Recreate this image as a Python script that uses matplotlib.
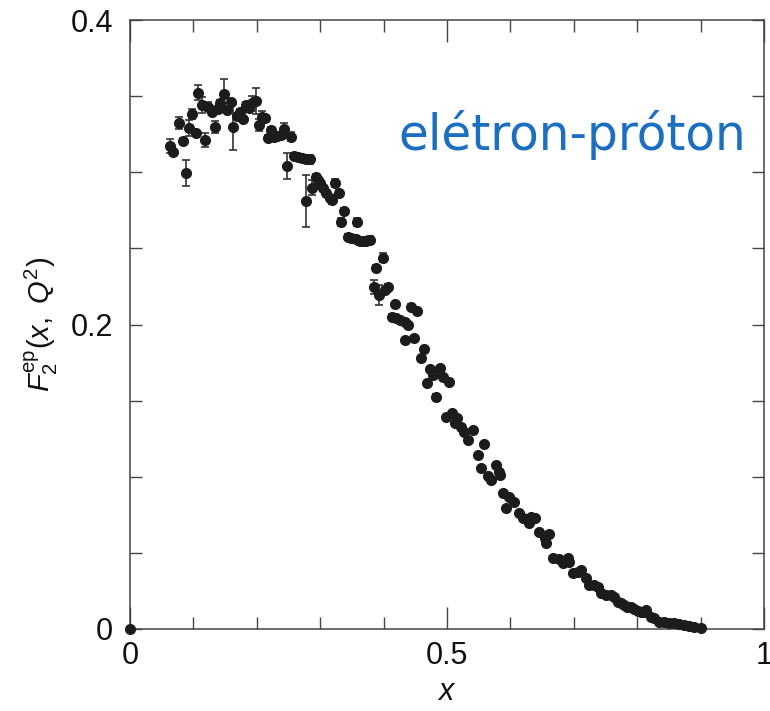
import numpy as np
import matplotlib
matplotlib.use("Agg")
import matplotlib.pyplot as plt
from matplotlib.ticker import MultipleLocator

x_vals = [0.0,
    0.063, 0.068, 0.0776, 0.083, 0.0882, 0.0929, 0.0981, 0.1035, 0.1076, 0.1129,
    0.1181, 0.1233, 0.1287, 0.1339, 0.1381, 0.1417, 0.148, 0.1523, 0.159, 0.1627,
    0.168, 0.1732, 0.1784, 0.1822, 0.1879, 0.1932, 0.1984, 0.2031, 0.2083, 0.2137,
    0.2178, 0.2231, 0.2272, 0.2326, 0.2378, 0.243, 0.2483, 0.2535, 0.2583, 0.265,
    0.272, 0.2783, 0.2846, 0.2783, 0.2877, 0.2929, 0.2965, 0.3003, 0.3044, 0.3098,
    0.315, 0.3186, 0.3239, 0.3291, 0.3375, 0.3323, 0.3586, 0.3438, 0.3491, 0.3559,
    0.3622, 0.3674, 0.3728, 0.378, 0.3989, 0.3885, 0.3843, 0.3926, 0.4016, 0.4068,
    0.4184, 0.4436, 0.4531, 0.4131, 0.42, 0.4263, 0.4331, 0.4383, 0.4331, 0.4477,
    0.4635, 0.4583, 0.4735, 0.4882, 0.4776, 0.4934, 0.5028, 0.4682, 0.483, 0.4987,
    0.5082, 0.5154, 0.5134, 0.5224, 0.5276, 0.5406, 0.5328, 0.5591, 0.5485, 0.5539,
    0.5643, 0.5696, 0.5775, 0.5816, 0.5838, 0.5879, 0.5973, 0.6063, 0.5932, 0.6142,
    0.6194, 0.6326, 0.6299, 0.6394, 0.6457, 0.6551, 0.6614, 0.6562, 0.6666, 0.6761,
    0.6824, 0.6902, 0.6929, 0.6981, 0.706, 0.7113, 0.7192, 0.7244, 0.7323, 0.7375,
    0.7428, 0.7507, 0.7586, 0.7638, 0.769, 0.7743, 0.7795, 0.7847, 0.79, 0.7953,
    0.8005, 0.8058, 0.811, 0.8137, 0.8216, 0.8268, 0.8346, 0.8425, 0.8504, 0.8583,
    0.8661, 0.874, 0.8819, 0.8898, 0.9003]

f2_vals = [0.0,
    0.3172, 0.3135, 0.3325, 0.3207, 0.2993, 0.3289, 0.3381, 0.3256, 0.3522, 0.3442,
    0.3212, 0.3430, 0.3398, 0.3295, 0.3413, 0.3453, 0.3514, 0.3409, 0.3463, 0.3295,
    0.3369, 0.3398, 0.3348, 0.3442, 0.3420, 0.3453, 0.3470, 0.3310, 0.3365, 0.3358,
    0.3223, 0.3277, 0.3233, 0.3238, 0.3245, 0.3282, 0.3041, 0.3233, 0.3107, 0.3098,
    0.3092, 0.3085, 0.3085, 0.2811, 0.2899, 0.2971, 0.2949, 0.2927, 0.2894, 0.2862,
    0.2829, 0.2818, 0.2931, 0.2862, 0.2747, 0.2675, 0.2675, 0.2577, 0.2566, 0.2560,
    0.2550, 0.2550, 0.2550, 0.2555, 0.2439, 0.2369, 0.2248, 0.2194, 0.2227, 0.2248,
    0.2133, 0.2117, 0.2091, 0.2051, 0.2041, 0.2030, 0.2018, 0.1997, 0.1898, 0.1909,
    0.1837, 0.1778, 0.1706, 0.1712, 0.1668, 0.1653, 0.1624, 0.1614, 0.1522, 0.1394,
    0.1421, 0.1384, 0.1351, 0.1325, 0.1294, 0.1307, 0.1241, 0.1213, 0.1143, 0.1055,
    0.1005, 0.0979, 0.1077, 0.1033, 0.1011, 0.0891, 0.0869, 0.0836, 0.0793, 0.0760,
    0.0727, 0.0738, 0.0698, 0.0727, 0.0639, 0.0596, 0.0624, 0.0563, 0.0464, 0.0458,
    0.0432, 0.0464, 0.0442, 0.0366, 0.0376, 0.0388, 0.0333, 0.0289, 0.0289, 0.0274,
    0.0234, 0.0223, 0.0223, 0.0212, 0.0179, 0.0169, 0.0158, 0.0146, 0.0143, 0.0129,
    0.0120, 0.0114, 0.0114, 0.0125, 0.0081, 0.0070, 0.0048, 0.0048, 0.0041, 0.0037,
    0.0033, 0.0026, 0.0020, 0.0015, 0.0005]

f2_err = [0.0,
    0.0046, 0.0020, 0.0041, 0.0020, 0.0085, 0.0053, 0.0033, 0.0015, 0.0049, 0.0050,
    0.0043, 0.0030, 0.0020, 0.0040, 0.0020, 0.0020, 0.0100, 0.0020, 0.0020, 0.0150,
    0.0020, 0.0020, 0.0020, 0.0020, 0.0025, 0.0050, 0.0085, 0.0040, 0.0040, 0.0020,
    0.0020, 0.0020, 0.0020, 0.0020, 0.0020, 0.0040, 0.0085, 0.0030, 0.0020, 0.0020,
    0.0020, 0.0025, 0.0030, 0.0170, 0.0050, 0.0020, 0.0020, 0.0020, 0.0020, 0.0020,
    0.0020, 0.0025, 0.0025, 0.0020, 0.0020, 0.0025, 0.0025, 0.0020, 0.0020, 0.0020,
    0.0025, 0.0025, 0.0025, 0.0025, 0.0030, 0.0020, 0.0046, 0.0066, 0.0020, 0.0020,
    0.0015, 0.0015, 0.0015, 0.0015, 0.0015, 0.0015, 0.0015, 0.0015, 0.0015, 0.0015,
    0.0015, 0.0015, 0.0015, 0.0015, 0.0015, 0.0015, 0.0015, 0.0015, 0.0020, 0.0010,
    0.0010, 0.0010, 0.0010, 0.0010, 0.0010, 0.0010, 0.0010, 0.0010, 0.0010, 0.0010,
    0.0010, 0.0010, 0.0010, 0.0010, 0.0010, 0.0010, 0.0010, 0.0010, 0.0010, 0.0010,
    0.0010, 0.0010, 0.0010, 0.0010, 0.0010, 0.0010, 0.0010, 0.0010, 0.0010, 0.0010,
    0.0010, 0.0010, 0.0010, 0.0010, 0.0010, 0.0010, 0.0010, 0.0010, 0.0010, 0.0010,
    0.0010, 0.0010, 0.0010, 0.0010, 0.0010, 0.0010, 0.0010, 0.0010, 0.0010, 0.0010,
    0.0010, 0.0010, 0.0010, 0.0010, 0.0010, 0.0010, 0.0010, 0.0010, 0.0010, 0.0010,
    0.0010, 0.0010, 0.0010, 0.0010, 0.0010]

x_ticks = [0, 0.5, 1]
x_ticklabels = ["0", "0.5", "1"]
y_ticks = [0, 0.2, 0.4]
y_ticklabels = ["0", "0.2", "0.4"]
annotation = "elétron-próton"

plt.rcParams['font.family'] = ['Liberation Sans', 'DejaVu Sans']
plt.rcParams['mathtext.fontset'] = 'custom'
plt.rcParams['mathtext.rm'] = 'Liberation Sans'
plt.rcParams['mathtext.it'] = 'Liberation Sans:italic'

fig = plt.figure(figsize=(7.7, 7.11), dpi=100)
ax = fig.add_axes([130/770, 1 - 629/711, 634/770, 609/711])

ax.errorbar(x_vals, f2_vals, yerr=f2_err, fmt='o', color='#1c1c1c',
            markersize=7, elinewidth=1.2, capsize=2.8, capthick=1.2,
            ecolor='#333333', clip_on=False, zorder=3)

ax.set_xlim(0, 1)
ax.set_ylim(0, 0.4)

ax.set_xticks(x_ticks)
ax.set_xticklabels(x_ticklabels)
ax.set_yticks(y_ticks)
ax.set_yticklabels(y_ticklabels)
ax.xaxis.set_minor_locator(MultipleLocator(0.1))
ax.yaxis.set_minor_locator(MultipleLocator(0.05))

for s in ax.spines.values():
    s.set_color('#444444')
    s.set_linewidth(1.1)

ax.tick_params(axis='x', which='major', direction='in', length=15.5, width=1.0,
               top=True, bottom=True, labelsize=22, pad=9, colors='#444444',
               labelcolor='#111111')
ax.tick_params(axis='x', which='minor', direction='in', length=8.6, width=1.0,
               top=True, bottom=True, colors='#444444')
ax.tick_params(axis='y', which='major', direction='in', length=8.6, width=1.0,
               left=True, right=True, labelsize=22, pad=12, colors='#444444',
               labelcolor='#111111')
ax.tick_params(axis='y', which='minor', direction='in', length=8.6, width=1.0,
               left=True, right=True, colors='#444444')

ax.set_xlabel(r'$x$', fontsize=22, color='#111111', labelpad=4)
ax.set_ylabel(r'$F_2^{\mathrm{ep}}(x,\ Q^2)$', fontsize=21, color='#111111', labelpad=8)

ax.text(0.972, 0.7865, annotation, transform=ax.transAxes, ha='right',
        va='baseline', fontsize=35, color='#1a6fc2', family=['DejaVu Sans'])

fig.savefig('out.png', dpi=100)
